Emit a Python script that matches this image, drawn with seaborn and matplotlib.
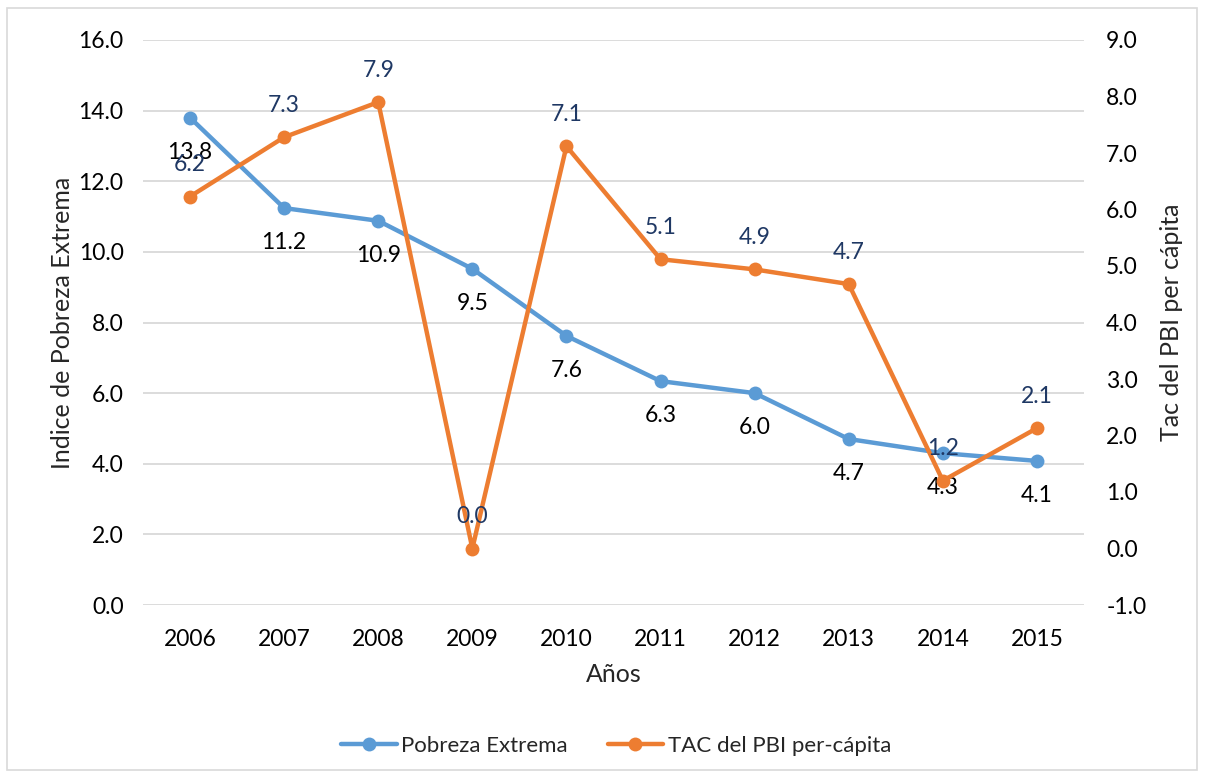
import pandas as pd
import matplotlib
matplotlib.use("Agg")
import matplotlib.pyplot as plt
import seaborn as sns
from matplotlib.patches import Rectangle
from matplotlib.ticker import FormatStrFormatter

# Data
years = ["2006", "2007", "2008", "2009", "2010", "2011", "2012", "2013", "2014", "2015"]
pobreza = [13.8, 11.24, 10.88, 9.52, 7.62, 6.34, 6.0, 4.7, 4.3, 4.08]
tac_pbi = [6.23, 7.28, 7.9, 0.0, 7.12, 5.12, 4.94, 4.68, 1.2, 2.13]

df = pd.DataFrame({"Año": years, "Pobreza Extrema": pobreza, "TAC del PBI per-cápita": tac_pbi})

sns.set_theme(style="white")
plt.rcParams["font.family"] = ["Lato", "DejaVu Sans"]

blue = "#5B9BD5"
orange = "#ED7D31"
navy = "#1F3864"
fs = 16.5

fig = plt.figure(figsize=(12.05, 7.78), dpi=100)
ax = fig.add_axes([143 / 1205, 1 - 605 / 778, (1084 - 143) / 1205, (605 - 40) / 778])
ax2 = ax.twinx()

fig.patches.append(Rectangle((7 / 1205, 8 / 778), 1190 / 1205, 762 / 778,
                             transform=fig.transFigure, fill=False,
                             edgecolor="#d9d9d9", linewidth=1.2))

sns.lineplot(data=df, x="Año", y="Pobreza Extrema", ax=ax, color=blue, linewidth=3.2,
             marker="o", markersize=10, markeredgewidth=0, label="Pobreza Extrema", legend=False)
sns.lineplot(data=df, x="Año", y="TAC del PBI per-cápita", ax=ax2, color=orange, linewidth=3.2,
             marker="o", markersize=10, markeredgewidth=0, label="TAC del PBI per-cápita", legend=False)

# data labels
for i, v in enumerate(pobreza):
    ax.annotate(f"{v:.1f}", (i, v), xytext=(0, -25), textcoords="offset points",
                ha="center", va="center", fontsize=fs, color="#000000")
for i, v in enumerate(tac_pbi):
    ax2.annotate(f"{v:.1f}", (i, v), xytext=(0, 23), textcoords="offset points",
                 ha="center", va="center", fontsize=fs, color=navy)

ax.set_xlim(-0.5, len(years) - 0.5)
ax.set_ylim(0, 16)
ax.set_yticks(range(0, 17, 2))
ax2.set_ylim(-1, 9)
ax2.set_yticks(range(-1, 10))
ax.yaxis.set_major_formatter(FormatStrFormatter("%.1f"))
ax2.yaxis.set_major_formatter(FormatStrFormatter("%.1f"))

ax.grid(axis="y", color="#d9d9d9", linewidth=1.3)
ax.set_axisbelow(True)
for a in (ax, ax2):
    for s in a.spines.values():
        s.set_visible(False)
    a.tick_params(length=0, labelsize=fs, colors="#000000")
ax.tick_params(axis="y", pad=14)
ax2.tick_params(axis="y", pad=16)
ax.tick_params(axis="x", pad=17)

ax.set_xlabel("Años", fontsize=18, labelpad=10)
ax.set_ylabel("Indice de Pobreza Extrema", fontsize=18, labelpad=3)
ax2.set_ylabel("Tac del PBI per cápita", fontsize=18, labelpad=10)

h1, l1 = ax.get_legend_handles_labels()
h2, l2 = ax2.get_legend_handles_labels()
fig.legend(h1 + h2, l1 + l2, loc="center", bbox_to_anchor=(616 / 1205, 1 - 746 / 778), ncol=2,
           frameon=False, fontsize=16, handlelength=2.5, columnspacing=1.8, handletextpad=0.2)

fig.savefig("out.png", dpi=100)
